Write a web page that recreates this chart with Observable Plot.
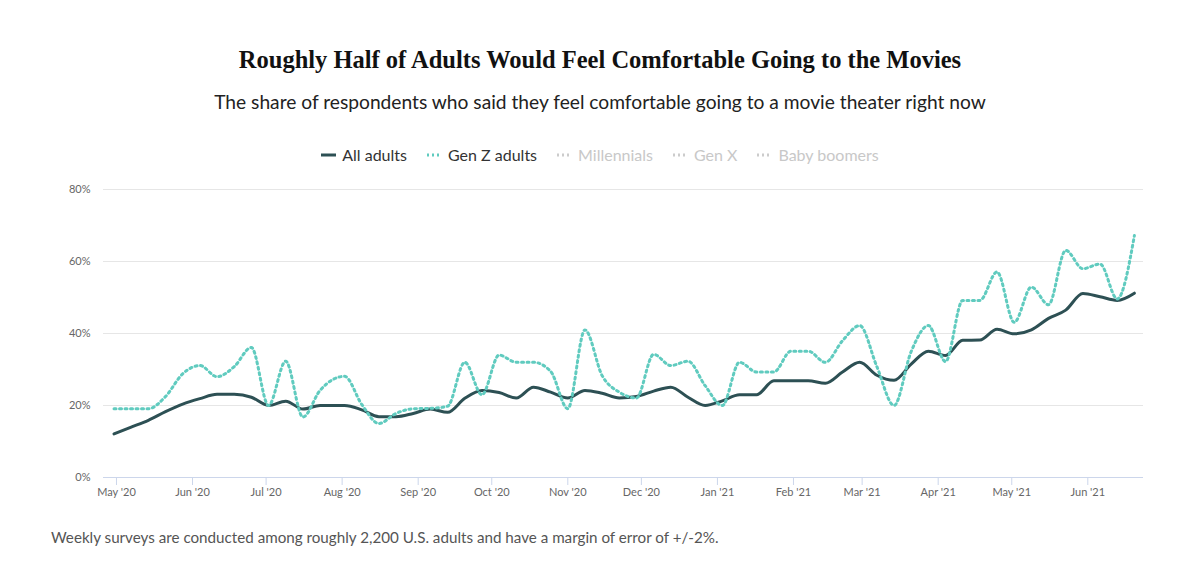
<!DOCTYPE html>
<html>
<head>
<meta charset="utf-8">
<script src="https://cdn.jsdelivr.net/npm/d3@7"></script>
<script src="https://cdn.jsdelivr.net/npm/@observablehq/plot@0.6"></script>
<style>
  html, body { margin:0; padding:0; background:#fff; }
  body { width:1200px; height:581px; position:relative; overflow:hidden; font-family: Lato, "Open Sans", sans-serif; }
  #title { position:absolute; top:46px; left:0; width:1200px; text-align:center; font-family:"Liberation Serif", serif; font-weight:bold; font-size:24.5px; color:#111; }
  #subtitle { position:absolute; top:90px; left:0; width:1200px; text-align:center; font-size:19.2px; color:#222; }
  #legend { position:absolute; top:145px; left:0; width:1200px; display:flex; justify-content:center; gap:20px; font-size:16px; }
  .item { display:flex; align-items:center; gap:6px; }
  #chart { position:absolute; top:170px; left:0; }
  #caption { position:absolute; top:528px; left:51px; font-size:15.2px; color:#555; }
</style>
</head>
<body>
<div id="title">Roughly Half of Adults Would Feel Comfortable Going to the Movies</div>
<div id="subtitle">The share of respondents who said they feel comfortable going to a movie theater right now</div>
<div id="legend"></div>
<div id="chart"></div>
<div id="caption">Weekly surveys are conducted among roughly 2,200 U.S. adults and have a margin of error of +/-2%.</div>
<script>
const dates = [
  "2020-04-30","2020-05-07","2020-05-14","2020-05-21","2020-05-28","2020-06-04","2020-06-11","2020-06-18",
  "2020-06-25","2020-07-02","2020-07-09","2020-07-16","2020-07-23","2020-08-02","2020-08-09","2020-08-16",
  "2020-08-23","2020-08-30","2020-09-06","2020-09-13","2020-09-20","2020-09-27","2020-10-04","2020-10-11",
  "2020-10-18","2020-10-25","2020-11-01","2020-11-08","2020-11-15","2020-11-22","2020-11-29","2020-12-06",
  "2020-12-13","2020-12-20","2020-12-27","2021-01-03","2021-01-10","2021-01-17","2021-01-24","2021-01-31",
  "2021-02-07","2021-02-14","2021-02-21","2021-02-28","2021-03-07","2021-03-14","2021-03-21","2021-03-28",
  "2021-04-04","2021-04-11","2021-04-18","2021-04-25","2021-05-02","2021-05-09","2021-05-16","2021-05-23",
  "2021-05-30","2021-06-06","2021-06-13","2021-06-20"
];
const allAdults = [
  12.1, 14.0, 15.9, 18.3, 20.4, 21.9, 23.1, 23.1,
  22.3, 20.0, 21.2, 19.0, 20.0, 20.0, 18.8, 16.9,
  16.9, 17.8, 19.0, 18.1, 22.0, 24.2, 23.6, 22.1,
  25.1, 23.7, 22.1, 24.2, 23.4, 22.1, 22.5, 24.0,
  25.1, 22.3, 20.0, 21.3, 23.0, 23.0, 26.9, 26.9,
  26.9, 26.2, 29.3, 32.0, 28.4, 27.0, 31.5, 35.1,
  33.9, 38.1, 38.2, 41.2, 39.9, 41.0, 44.2, 46.5,
  51.1, 50.2, 49.2, 51.2
];
const genZ = [
  19.1, 19.1, 19.1, 22.5, 28.8, 31.1, 28.0, 30.8,
  36.1, 20.0, 32.3, 16.8, 24.2, 28.1, 20.3, 15.0,
  17.8, 19.1, 19.2, 19.8, 32.0, 23.0, 34.0, 32.0,
  32.0, 29.5, 19.1, 41.0, 28.3, 23.7, 22.1, 34.2,
  31.1, 32.3, 25.5, 20.0, 32.0, 29.3, 29.3, 35.1,
  35.1, 32.0, 38.0, 42.2, 30.8, 20.0, 35.0, 42.2,
  32.2, 49.2, 49.2, 57.1, 43.1, 52.9, 48.0, 63.1,
  58.0, 59.3, 49.6, 67.2
];
const monthTicks = [
  "2020-05-01","2020-06-01","2020-07-01","2020-08-01","2020-09-01","2020-10-01","2020-11-01",
  "2020-12-01","2021-01-01","2021-02-01","2021-03-01","2021-04-01","2021-05-01","2021-06-01"
];
const yTicks = [0, 20, 40, 60, 80];
const seriesNames = ["All adults", "Gen Z adults", "Millennials", "Gen X", "Baby boomers"];
const seriesColors = ["#2d5054", "#60cbbf", "#cccccc", "#cccccc", "#cccccc"];
const seriesActive = [true, true, false, false, false];

const allRows = dates.map((d, i) => ({date: new Date(d), value: allAdults[i]}));
const genZRows = dates.map((d, i) => ({date: new Date(d), value: genZ[i]}));
const tickDates = monthTicks.map(d => new Date(d));
const fmt = d3.utcFormat("%b '%y");

// legend
const legend = document.getElementById("legend");
seriesNames.forEach((name, i) => {
  const item = document.createElement("div");
  item.className = "item";
  const solid = i === 0;
  item.innerHTML = `<svg width="15" height="10"><line x1="0" x2="15" y1="5" y2="5" stroke="${seriesColors[i]}" stroke-width="3" ${solid ? "" : 'stroke-dasharray="2 3"'}/></svg><span style="color:${seriesActive[i] ? "#333" : "#c8c8c8"}">${name}</span>`;
  legend.appendChild(item);
});

const chart = Plot.plot({
  width: 1200,
  height: 340,
  marginTop: 19,
  marginBottom: 33,
  marginLeft: 103,
  marginRight: 57,
  style: {fontFamily: "Lato, sans-serif", fontSize: "11px", color: "#666", background: "transparent"},
  x: {type: "utc", domain: [new Date("2020-04-25T17:00:00Z"), new Date("2021-06-23T17:00:00Z")]},
  y: {domain: [0, 80]},
  marks: [
    Plot.gridY(yTicks.filter(v => v > 0), {stroke: "#e6e6e6", strokeOpacity: 1}),
    Plot.ruleY([0], {stroke: "#ccd6eb", strokeWidth: 1}),
    Plot.axisY(yTicks, {tickSize: 0, tickPadding: 13, tickFormat: d => d + "%", label: null, fill: "#666", fontSize: 11}),
    Plot.axisX(tickDates, {tickSize: 8, tickPadding: 3, tickFormat: fmt, label: null, stroke: "#ccd6eb", fill: "#666", fontSize: 11}),
    Plot.line(allRows, {x: "date", y: "value", stroke: seriesColors[0], strokeWidth: 3, curve: "monotone-x", strokeLinejoin: "round", strokeLinecap: "round"}),
    Plot.line(genZRows, {x: "date", y: "value", stroke: seriesColors[1], strokeWidth: 3, strokeDasharray: "2 3.5", curve: "monotone-x"})
  ]
});
document.getElementById("chart").appendChild(chart);
</script>
</body>
</html>
